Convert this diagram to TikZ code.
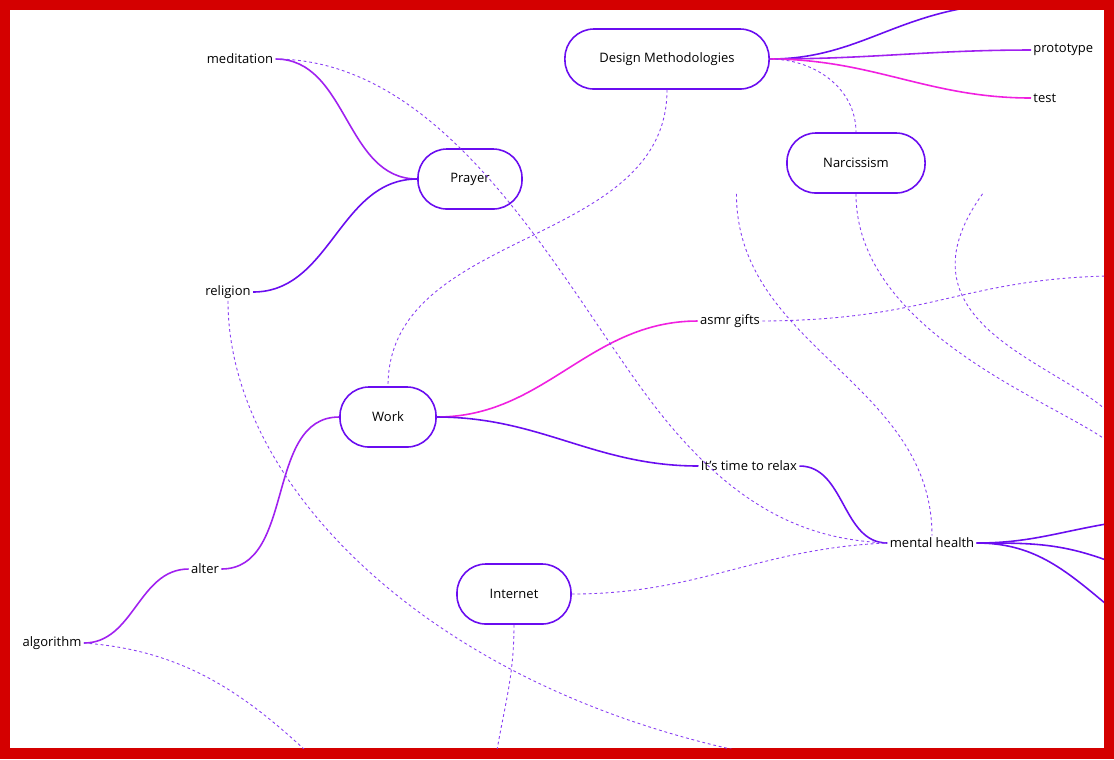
\documentclass[tikz,border=0pt]{standalone}
\usepackage{fontspec}
\setmainfont{Open Sans}
\usepackage{tikz}
\definecolor{violetA}{HTML}{6A0DF0}
\definecolor{violetB}{HTML}{A020F0}
\definecolor{magentaA}{HTML}{F020E0}
\definecolor{frameRed}{HTML}{D40000}
\tikzset{
  topic/.style={draw=violetA,line width=0.45pt,rounded corners=0.29cm,minimum height=0.6cm,fill=white,font=\fontsize{3.7}{4.4}\selectfont},
  leaf/.style={font=\fontsize{3.7}{4.4}\selectfont,inner sep=0.5pt},
  solidlink/.style={line width=0.45pt},
  dashlink/.style={violetA!80,dashed,line width=0.25pt,dash pattern=on 0.8pt off 0.8pt}
}
\begin{document}
\begin{tikzpicture}[x=0.01cm,y=-0.01cm]
\fill[frameRed] (0,0) rectangle (1114,759);
\fill[white] (10,10) rectangle (1104,748);
\useasboundingbox (0,0) rectangle (1114,759);
\begin{scope}
\clip (10,10) rectangle (1104,748);
% topics
\node[topic,minimum width=1.04cm] (prayer) at (470,179) {Prayer};
\node[topic,minimum width=2.04cm] (design) at (667,59) {Design Methodologies};
\node[topic,minimum width=1.38cm] (narc) at (856,163) {Narcissism};
\node[topic,minimum width=0.96cm] (work) at (388,417) {Work};
\node[topic,minimum width=1.14cm] (internet) at (514,594) {Internet};
% leaves
\node[leaf] (meditation) at (240,59) {meditation};
\node[leaf] (religion) at (228,292) {religion};
\node[leaf,anchor=west] (prototype) at (1031,50) {prototype};
\node[leaf,anchor=west] (test) at (1031,98) {test};
\node[leaf] (asmr) at (730,321) {asmr gifts};
\node[leaf] (relax) at (749,466) {It's time to relax};
\node[leaf] (mental) at (932,543) {mental health};
\node[leaf] (alter) at (205,569) {alter};
\node[leaf] (algorithm) at (52,643) {algorithm};
% loose ends
\coordinate (e1) at (965,8);
\coordinate (e2) at (1106,524);
\coordinate (e3) at (1106,560);
\coordinate (e4) at (1106,604);
\coordinate (e5) at (1106,276);
\coordinate (e6) at (1106,440);
\coordinate (e7) at (1106,410);
\coordinate (e8) at (735,750);
\coordinate (e9) at (497,750);
\coordinate (e10) at (305,750);
% solid links
\draw[solidlink,violetB] (meditation.east) to[out=0,in=180] (prayer.west);
\draw[solidlink,violetA] (religion.east) to[out=0,in=180] (prayer.west);
\draw[solidlink,violetA] (design.east) to[out=0,in=190] (e1);
\draw[solidlink,violetB] (design.east) to[out=0,in=180] (prototype.west);
\draw[solidlink,magentaA] (design.east) to[out=0,in=180] (test.west);
\draw[solidlink,magentaA] (work.east) to[out=0,in=180] (asmr.west);
\draw[solidlink,violetA] (work.east) to[out=0,in=180] (relax.west);
\draw[solidlink,violetA] (relax.east) to[out=0,in=180] (mental.west);
\draw[solidlink,violetA] (mental.east) to[out=0,in=190] (e2);
\draw[solidlink,violetA] (mental.east) to[out=0,in=160] (e3);
\draw[solidlink,violetA] (mental.east) to[out=0,in=140] (e4);
\draw[solidlink,violetB] (alter.east) to[out=0,in=180] (work.west);
\draw[solidlink,violetB] (algorithm.east) to[out=0,in=180] (alter.west);
% dashed links
\draw[dashlink] (meditation.east) .. controls (450,60) and (560,280) .. (650,400) .. controls (740,520) and (820,540) .. (mental.west);
\draw[dashlink] (design.south) to[out=-90,in=90] (work.north);
\draw[dashlink] (design.east) to[out=0,in=90] (narc.north);
\draw[dashlink] ([xshift=-34]narc.south) to[out=-90,in=90] (mental.north);
\draw[dashlink] (narc.south) .. controls (856,330) and (1050,400) .. (e6);
\draw[dashlink] ([xshift=36]narc.south) .. controls (892,320) and (1050,360) .. (e7);
\draw[dashlink] (asmr.east) .. controls (930,320) and (960,280) .. (e5);
\draw[dashlink] (religion.south) .. controls (228,480) and (420,680) .. (e8);
\draw[dashlink] (internet.east) .. controls (700,594) and (760,548) .. (mental.west);
\draw[dashlink] (internet.south) to[out=-90,in=80] (e9);
\draw[dashlink] (algorithm.east) .. controls (180,650) and (240,690) .. (e10);
\end{scope}
\end{tikzpicture}
\end{document}
